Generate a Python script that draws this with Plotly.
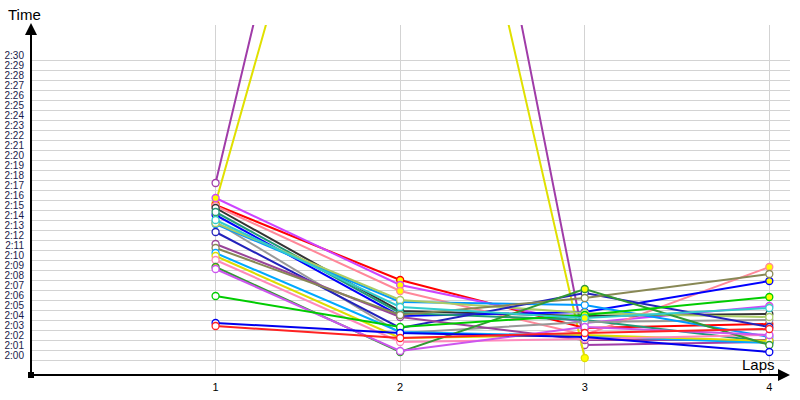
import plotly.graph_objects as go

laps = [1, 2, 3, 4]

# lap times in seconds per driver (None = no lap)
names = ["purple", "yellow", "red", "violet", "pink", "darkgray", "blue", "teal",
         "gray", "lightblue", "lightgreen", "navy", "purple2", "olive", "lightblue2",
         "yellow2", "pink2", "darkgreen", "violet2", "green", "blue3", "red2", "cyan"]
times = {
    "purple":     [137.2, 214.5, 121.0, 121.3],
    "yellow":     [135.2, 200.5, 119.7, None],
    "red":        [135.0, 127.5, 122.7, 123.1],
    "violet":     [135.7, 127.0, 123.2, 124.9],
    "pink":       [134.9, 126.4, 122.0, 128.8],
    "darkgray":   [134.7, 124.4, 123.9, 124.1],
    "blue":       [134.0, 123.9, 124.3, 127.4],
    "teal":       [134.3, 124.2, 123.5, 121.3],
    "gray":       [133.3, 122.2, 123.3, 123.5],
    "lightblue":  [133.1, 125.3, 125.0, 121.8],
    "lightgreen": [133.2, 125.5, 124.2, 123.8],
    "navy":       [132.3, 122.7, 126.2, 122.8],
    "purple2":    [131.1, 123.8, 121.5, 121.5],
    "olive":      [130.7, 124.0, 125.7, 128.1],
    "lightblue2": [130.2, 122.3, 121.9, 121.2],
    "yellow2":    [129.9, 121.7, 122.0, 121.4],
    "pink2":      [129.5, 121.3, 121.6, 122.0],
    "darkgreen":  [128.8, 120.3, 126.6, 121.0],
    "violet2":    [128.6, 120.4, 122.8, 122.0],
    "green":      [125.9, 122.8, 124.0, 125.8],
    "blue3":      [123.2, 122.2, 121.8, 120.3],
    "red2":       [122.9, 121.7, 122.2, 122.6],
    "cyan":       [133.5, 124.8, 123.7, 124.7],
}
# laps highlighted with a yellow marker
highlight = {
    "yellow": [1, 3], "violet": [1, 2, 4], "blue": [1, 2, 3, 4], "lightblue": [1, 2],
    "darkgreen": [1, 2, 3], "red": [2, 3, 4], "pink": [2, 4], "yellow2": [2],
    "green": [3, 4], "cyan": [3],
}
tick_vals = list(range(120, 151))
tick_text = ["2:%02d" % (v - 120) for v in tick_vals]
grid_vals = [v - 0.5 for v in tick_vals]

colors = {
    "purple": "#a03ca8", "yellow": "#e0e000", "red": "#ff0000", "violet": "#cc44ff",
    "pink": "#ff8899", "darkgray": "#333333", "blue": "#0000ff", "teal": "#229977",
    "gray": "#999999", "lightblue": "#0099ff", "lightgreen": "#aacc66", "navy": "#2222bb",
    "purple2": "#994499", "olive": "#888855", "lightblue2": "#00aaff", "yellow2": "#dddd00",
    "pink2": "#ff88bb", "darkgreen": "#339933", "violet2": "#cc55ee", "green": "#00cc00",
    "blue3": "#0000ee", "red2": "#ff2222", "cyan": "#33cccc",
}

fig = go.Figure()
for n in names:
    fills = ["#ffff00" if l in highlight.get(n, []) else "#ffffff" for l in laps]
    fig.add_trace(go.Scatter(
        x=laps, y=times[n], mode="lines+markers",
        line=dict(color=colors[n], width=2),
        marker=dict(symbol="circle", size=7, color=fills,
                    line=dict(color=colors[n], width=1.3)),
        showlegend=False, hoverinfo="skip"))

fig.update_layout(
    width=800, height=400,
    margin=dict(l=31, r=10, t=25, b=25, autoexpand=False),
    paper_bgcolor="white", plot_bgcolor="white",
    font=dict(family="Liberation Sans", color="#000000"),
    xaxis=dict(range=[0, 4.112], tickvals=laps, ticktext=[str(l) for l in laps],
               automargin=False, ticklabelstandoff=4,
               showgrid=True, gridcolor="#d3d3d3", gridwidth=1, zeroline=False,
               showline=False, ticks="", tickfont=dict(size=11, color="#000000")),
    yaxis=dict(range=[118, 153], tickvals=tick_vals, ticktext=tick_text,
               automargin=False,
               showgrid=False, zeroline=False, showline=False, ticks="",
               ticklabelstandoff=6,
               tickfont=dict(size=10, color="#1a1a4a"),
               minor=dict(tickvals=grid_vals, showgrid=True, gridcolor="#d3d3d3",
                          gridwidth=1, ticks="")),
)

# axis arrows
fig.add_annotation(x=0, y=1.006, xref="paper", yref="paper", ax=0, ay=352,
                   axref="pixel", ayref="pixel", text="", showarrow=True,
                   arrowhead=2, arrowsize=1.2, arrowwidth=2, arrowcolor="black")
fig.add_annotation(x=1.0, y=0, xref="paper", yref="paper", ax=-759, ay=0,
                   text="", showarrow=True,
                   arrowhead=2, arrowsize=1.2, arrowwidth=2, arrowcolor="black")
fig.add_shape(type="rect", xref="paper", yref="paper", xsizemode="pixel",
              ysizemode="pixel", xanchor=0, yanchor=0, x0=-3, x1=3, y0=-3, y1=3,
              fillcolor="black", line=dict(width=0))
fig.add_annotation(x=-0.008, y=1.029, xref="paper", yref="paper", text="Time",
                   showarrow=False, xanchor="center", yanchor="middle",
                   font=dict(size=15, color="black"))
fig.add_annotation(x=0.959, y=0.029, xref="paper", yref="paper", text="Laps",
                   showarrow=False, xanchor="center", yanchor="middle",
                   font=dict(size=15, color="black"))

fig.write_html("out.html", config={"displayModeBar": False},
               post_script="document.body.style.margin='0';")
